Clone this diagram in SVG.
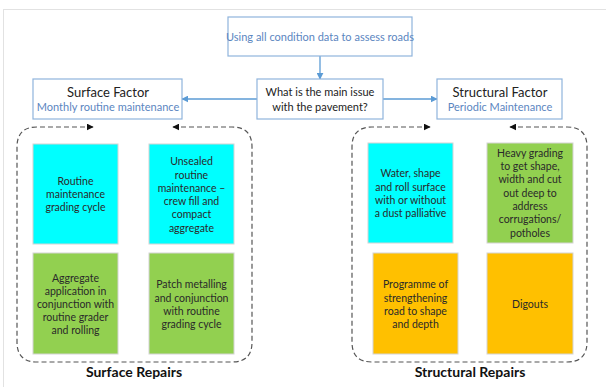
<svg xmlns="http://www.w3.org/2000/svg" width="606" height="387" viewBox="0 0 606 387">
<defs>
<marker id="blueArrow" viewBox="0 0 10 10" refX="9" refY="5" markerWidth="7" markerHeight="7" markerUnits="userSpaceOnUse" orient="auto">
<path d="M0,0 L10,5 L0,10 z" fill="#5b9bd5"/>
</marker>
<marker id="blackArrow" viewBox="0 0 10 10" refX="9" refY="5" markerWidth="7" markerHeight="7" markerUnits="userSpaceOnUse" orient="auto-start-reverse">
<path d="M0,0 L10,5 L0,10 z" fill="#111"/>
</marker>
</defs>
<style>
text { font-family: Lato, "Liberation Sans", sans-serif; text-anchor: middle; }
.hbox { fill: #fff; stroke: #8fb4dc; stroke-width: 1.2; }
.blue { fill: #5b86bf; font-size: 11px; }
.dark { fill: #222; font-size: 11px; }
.title { fill: #222; font-size: 13px; }
.box { stroke: #d4d4d4; stroke-width: 1; }
.cyan { fill: #00ffff; }
.green { fill: #92d050; }
.orange { fill: #ffc000; }
.bt { fill: #2a2a2a; font-size: 10.5px; }
.dash { fill: none; stroke: #555; stroke-width: 1.2; stroke-dasharray: 5 3; }
.conn { fill: none; stroke: #5b9bd5; stroke-width: 1.3; }
.group { fill: #111; font-size: 14px; font-weight: bold; }
</style>
<rect x="0" y="0" width="606" height="387" fill="#fff"/>
<rect x="3.5" y="9.5" width="620" height="400" fill="none" stroke="#e2e2e2" stroke-width="1"/>

<g id="connectors">
<path class="conn" d="M320,56 L320,79" marker-end="url(#blueArrow)"/>
<path class="conn" d="M257,99 L182,99" marker-end="url(#blueArrow)"/>
<path class="conn" d="M383,99 L437,99" marker-end="url(#blueArrow)"/>
<path class="dash" d="M173,127 L232,127 Q252,127 252,147 L252,342 Q252,362 232,362 L37,362 Q17,362 17,342 L17,147 Q17,127 37,127 L93,127" marker-start="url(#blackArrow)" marker-end="url(#blackArrow)"/>
<path class="dash" d="M510,127 L567,127 Q587,127 587,147 L587,342 Q587,362 567,362 L372,362 Q352,362 352,342 L352,147 Q352,127 372,127 L430,127" marker-start="url(#blackArrow)" marker-end="url(#blackArrow)"/>
</g>

<g id="assess">
<rect class="hbox" x="228" y="17" width="184" height="39"/>
<text class="blue" x="320" y="41">Using all condition data to assess roads</text>
</g>

<g id="main-issue">
<rect class="hbox" x="257" y="79" width="126" height="40"/>
<text class="dark" x="320" y="96">What is the main issue</text>
<text class="dark" x="320" y="111">with the pavement?</text>
</g>

<g id="surface-factor">
<rect class="hbox" x="33" y="79" width="149" height="40"/>
<text class="title" x="108" y="97">Surface Factor</text>
<text class="blue" x="108" y="111">Monthly routine maintenance</text>
</g>

<g id="structural-factor">
<rect class="hbox" x="437" y="79" width="125" height="40"/>
<text class="title" x="500" y="97">Structural Factor</text>
<text class="blue" x="500" y="111">Periodic Maintenance</text>
</g>

<g id="surface-repairs">
<text class="group" x="134" y="377">Surface Repairs</text>
</g>

<g id="structural-repairs">
<text class="group" x="470" y="377">Structural Repairs</text>
</g>

<g id="routine-grading">
<rect class="box cyan" x="33" y="144" width="85" height="100"/>
<text class="bt" x="75.5" y="185">Routine</text>
<text class="bt" x="75.5" y="198">maintenance</text>
<text class="bt" x="75.5" y="211">grading cycle</text>
</g>

<g id="unsealed">
<rect class="box cyan" x="149" y="144" width="85" height="100"/>
<text class="bt" x="191.5" y="165">Unsealed</text>
<text class="bt" x="191.5" y="179">routine</text>
<text class="bt" x="191.5" y="192">maintenance –</text>
<text class="bt" x="191.5" y="205">crew fill and</text>
<text class="bt" x="191.5" y="218">compact</text>
<text class="bt" x="191.5" y="232">aggregate</text>
</g>

<g id="aggregate">
<rect class="box green" x="33" y="253" width="85" height="101"/>
<text class="bt" x="75.5" y="282">Aggregate</text>
<text class="bt" x="75.5" y="295">application in</text>
<text class="bt" x="75.5" y="308">conjunction with</text>
<text class="bt" x="75.5" y="321">routine grader</text>
<text class="bt" x="75.5" y="334">and rolling</text>
</g>

<g id="patch">
<rect class="box green" x="149" y="253" width="85" height="101"/>
<text class="bt" x="191.5" y="288">Patch metalling</text>
<text class="bt" x="191.5" y="302">and conjunction</text>
<text class="bt" x="191.5" y="315">with routine</text>
<text class="bt" x="191.5" y="328">grading cycle</text>
</g>

<g id="water">
<rect class="box cyan" x="368" y="143" width="85" height="100"/>
<text class="bt" x="410.5" y="177">Water, shape</text>
<text class="bt" x="410.5" y="191">and roll surface</text>
<text class="bt" x="410.5" y="204">with or without</text>
<text class="bt" x="410.5" y="217">a dust palliative</text>
</g>

<g id="heavy-grading">
<rect class="box green" x="487" y="143" width="86" height="100"/>
<text class="bt" x="530" y="157">Heavy grading</text>
<text class="bt" x="530" y="170">to get shape,</text>
<text class="bt" x="530" y="183">width and cut</text>
<text class="bt" x="530" y="197">out deep to</text>
<text class="bt" x="530" y="210">address</text>
<text class="bt" x="530" y="223">corrugations/</text>
<text class="bt" x="530" y="237">potholes</text>
</g>

<g id="programme">
<rect class="box orange" x="373" y="253" width="85" height="101"/>
<text class="bt" x="415.5" y="288">Programme of</text>
<text class="bt" x="415.5" y="302">strengthening</text>
<text class="bt" x="415.5" y="315">road to shape</text>
<text class="bt" x="415.5" y="328">and depth</text>
</g>

<g id="digouts">
<rect class="box orange" x="487" y="253" width="86" height="101"/>
<text class="bt" x="530" y="308">Digouts</text>
</g>
</svg>
